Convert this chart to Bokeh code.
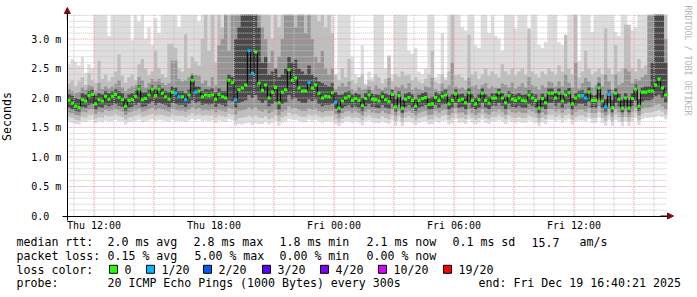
from bokeh.plotting import figure
from bokeh.models import Range1d, FixedTicker, Label, Arrow, NormalHead
from bokeh.embed import file_html
from bokeh.resources import INLINE
from bokeh.core.properties import value
import math

# ---------------- data (values in 1/100 ms, one per 10-minute slot) ----------------
START_H = 10 + 40 / 60.0      # Thu 10:40 (hours since Thu 00:00)
STEP_H = 1 / 6.0              # 10 minutes
END_H = START_H + 30          # Fri 16:40
TOP_MS = 3.415                # top of the graph area

MEDIAN = [196,191,186,184,197,195,204,206,190,197,
          195,203,198,203,206,201,197,186,196,197,
          203,215,197,199,205,215,204,215,208,202,
          198,210,208,202,202,197,205,230,210,212,
          202,205,204,205,198,206,202,200,230,226,
          197,214,217,222,280,242,278,225,213,222,
          200,210,218,192,210,214,248,230,234,217,
          212,212,226,217,222,208,200,203,202,209,
          193,183,195,200,203,196,199,196,187,199,
          205,198,197,195,202,197,194,206,185,204,
          183,198,201,196,186,196,199,201,189,190,
          201,196,203,205,190,196,207,196,198,192,
          209,196,190,197,208,196,191,200,200,209,
          200,192,204,198,196,200,196,195,205,200,
          196,183,199,192,208,208,200,208,195,205,
          209,190,200,204,204,200,210,196,196,217,
          195,185,206,184,208,198,183,200,183,199,
          215,186,210,210,212,212,222,232,217,205]

LOSS_SLOTS = [32, 33, 35, 38, 50, 54, 55, 72, 80, 154, 155, 161, 162]   # slots with 1/20 loss
LOSS = [1 if i in LOSS_SLOTS else 0 for i in range(len(MEDIAN))]

HI1 = [257,266,262,255,270,243,257,250,341,341,
       341,341,305,341,341,341,341,341,341,298,
       341,330,341,300,320,290,335,310,341,341,
       341,341,341,320,341,341,341,341,341,330,
       341,341,341,341,341,341,341,341,341,341,
       341,341,341,341,341,341,341,341,341,341,
       341,341,341,341,341,341,341,341,341,341,
       341,341,341,341,341,341,341,341,341,341,
       234,341,341,341,341,270,240,230,290,225,
       245,235,341,341,341,250,270,240,341,341,
       341,341,280,275,285,245,240,250,341,341,
       235,240,310,235,341,341,341,341,320,315,
       341,341,290,285,341,341,310,341,305,300,
       280,341,341,341,318,341,341,341,305,341,
       341,290,285,295,341,341,341,295,290,300,
       341,341,341,263,341,341,341,312,341,341,
       341,341,341,341,312,305,341,341,318,315,
       320,341,341,341,341,341,341,341,341,341]

HI2 = [225,230,220,228,235,222,242,230,226,263,
       232,240,228,236,245,274,238,226,235,240,
       230,257,266,250,238,245,280,250,240,235,
       292,292,285,250,245,308,250,270,262,255,
       300,341,280,341,260,341,320,341,341,341,
       341,341,341,341,341,341,341,341,341,341,
       341,300,341,320,341,341,341,341,341,341,
       341,341,341,341,341,330,341,320,341,310,
       240,230,250,235,266,230,225,235,240,222,
       230,228,240,235,225,232,272,228,240,236,
       245,238,240,230,235,228,225,232,240,280,
       228,225,240,230,245,341,238,240,235,230,
       307,240,245,232,240,250,238,245,240,235,
       257,245,240,250,238,245,250,240,318,245,
       240,235,245,240,250,245,240,255,245,307,
       250,240,341,235,245,280,250,240,245,250,
       240,318,250,240,290,245,250,324,324,250,
       245,266,250,255,270,280,341,341,341,341]

HI3 = [215,212,208,210,218,214,222,220,212,225,
       215,220,216,220,224,230,218,212,216,220,
       222,235,230,218,225,232,228,232,226,222,
       225,263,263,232,228,230,235,242,240,238,
       225,230,220,235,222,290,300,341,280,341,
       341,341,341,341,341,341,341,341,320,300,
       260,280,250,270,300,341,341,341,320,341,
       341,310,341,300,270,260,280,250,240,250,
       215,220,225,220,228,215,212,218,214,215,
       220,213,222,216,214,218,234,215,220,218,
       222,216,225,214,218,215,213,220,218,234,
       215,212,224,216,222,260,220,216,218,214,
       234,220,222,215,222,225,216,220,218,215,
       224,222,218,226,216,220,225,218,235,222,
       220,214,222,218,228,226,220,228,220,240,
       226,218,260,216,225,234,228,218,222,235,
       220,240,228,215,240,222,226,250,245,225,
       232,230,235,240,341,341,341,341,341,300]

HI4 = [206,204,200,198,208,206,212,214,204,208,
       206,212,208,212,215,212,208,200,206,208,
       212,222,210,210,214,222,214,222,216,212,
       210,220,218,212,212,208,214,238,220,220,
       212,215,214,216,210,216,212,212,240,236,
       300,320,341,341,341,341,341,320,260,270,
       240,245,250,235,240,250,270,260,265,250,
       245,240,255,240,235,228,225,222,220,225,
       210,205,206,210,212,206,208,206,200,208,
       213,207,206,205,211,207,205,214,198,212,
       196,207,210,206,198,205,208,210,200,202,
       210,206,212,214,202,206,215,206,207,203,
       216,206,201,206,216,206,202,208,208,216,
       208,202,212,207,206,208,205,206,213,208,
       206,196,207,202,216,216,208,216,205,213,
       217,200,208,212,213,208,218,205,205,225,
       205,198,214,196,216,207,196,208,196,208,
       223,198,218,220,220,260,341,341,341,260]

LO4 = [184,181,178,177,185,184,188,190,180,185,
       184,188,186,188,190,187,185,178,184,185,
       188,192,185,186,190,194,188,192,190,188,
       185,192,190,188,188,185,190,196,192,194,
       188,190,189,190,185,190,188,186,196,194,
       184,192,194,196,205,200,205,196,192,196,
       186,190,194,180,190,193,205,198,200,195,
       192,192,198,195,198,190,186,188,188,190,
       182,175,183,186,188,184,186,184,178,186,
       190,185,184,183,188,184,182,190,177,189,
       175,185,188,184,178,184,186,188,180,181,
       188,184,189,190,180,184,192,184,185,181,
       192,184,180,184,192,184,181,187,187,192,
       187,181,190,185,184,187,184,184,190,187,
       184,175,185,181,192,192,187,192,184,190,
       193,180,187,190,190,187,194,184,184,198,
       184,177,191,176,192,186,176,187,176,187,
       196,178,194,196,196,198,203,206,200,193]

LO3 = [176,174,171,170,177,176,180,181,173,177,
       176,180,178,179,181,179,177,171,176,177,
       179,182,177,178,181,183,179,182,181,179,
       177,182,180,179,179,177,180,184,181,183,
       179,180,179,180,176,180,178,177,183,181,
       172,178,179,180,184,180,184,179,177,180,
       174,177,180,170,177,179,186,182,183,180,
       178,178,182,180,182,178,176,178,178,179,
       173,167,174,177,178,175,177,175,170,177,
       180,176,175,174,178,175,173,180,169,179,
       167,176,178,175,170,175,177,178,171,172,
       178,175,179,180,171,175,182,175,176,172,
       181,175,171,175,181,175,172,177,177,181,
       177,172,180,176,175,177,175,175,180,177,
       175,167,176,172,181,181,177,181,175,180,
       182,171,177,180,180,177,183,175,175,186,
       175,169,181,168,181,176,168,177,168,177,
       184,170,182,184,184,185,188,190,186,181]

LO2 = [168,166,163,162,168,167,171,172,165,168,
       167,171,169,170,172,170,168,163,167,168,
       170,172,168,169,171,173,170,172,171,170,
       168,172,170,170,170,168,171,174,171,173,
       170,171,170,171,167,171,169,168,173,171,
       162,166,167,168,170,167,170,167,166,169,
       164,167,170,161,167,169,175,172,173,170,
       168,168,172,170,172,169,167,169,169,170,
       164,159,165,168,169,166,168,166,162,168,
       171,167,166,165,169,166,164,171,161,170,
       159,167,169,166,162,166,168,169,163,164,
       169,166,170,171,163,166,173,166,167,164,
       172,166,163,166,172,166,164,168,168,172,
       168,164,171,167,166,168,166,166,171,168,
       166,159,167,164,172,172,168,172,166,171,
       173,163,168,171,171,168,174,166,166,176,
       166,161,172,160,172,167,160,168,160,168,
       175,162,173,175,175,176,178,180,177,172]

LO1 = [160,158,156,155,160,159,162,163,157,160,
       159,162,160,161,163,161,160,155,159,160,
       161,163,159,160,162,164,161,163,162,161,
       159,163,161,161,161,159,162,165,162,164,
       161,162,161,162,158,162,160,159,164,162,
       153,156,155,157,158,154,157,156,156,159,
       155,158,161,153,158,160,165,163,163,161,
       159,159,163,161,163,160,158,160,160,161,
       156,152,157,160,160,158,160,158,154,160,
       162,159,158,157,160,158,156,162,153,161,
       152,159,160,158,154,158,160,160,155,156,
       160,158,161,162,155,158,164,158,159,156,
       163,158,155,158,163,158,156,160,160,163,
       160,156,162,159,158,160,158,158,162,160,
       158,152,159,156,163,163,160,163,158,162,
       164,155,160,162,162,160,165,158,158,167,
       158,153,163,152,163,159,152,160,152,160,
       166,154,164,166,166,167,168,170,168,164]

X_TICKS = [12, 18, 24, 30, 36]
X_TICK_LABELS = ["Thu 12:00", "Thu 18:00", "Fri 00:00", "Fri 06:00", "Fri 12:00"]
Y_TICKS = [0.0, 0.5, 1.0, 1.5, 2.0, 2.5, 3.0]
Y_TICK_LABELS = ["0.0\u00a0\u00a0", "0.5 m", "1.0 m", "1.5 m", "2.0 m", "2.5 m", "3.0 m"]

LOSS_LEVELS = [0, 1, 2, 3, 4, 10, 19]
LOSS_LABELS = ["0", "1/20", "2/20", "3/20", "4/20", "10/20", "19/20"]
LOSS_COLORS = ["#26ff00", "#00b8ff", "#0059ff", "#5e00ff", "#7e00ff", "#dd00ff", "#ff0000"]

ROW1 = ["median rtt:", "2.0 ms avg", "2.8 ms max", "1.8 ms min", "2.1 ms now", "0.1 ms sd", "15.7", "am/s"]
ROW2 = ["packet loss:", "0.15 % avg", "5.00 % max", "0.00 % min", "0.00 % now"]
ROW3 = ["loss color:"]
ROW4 = ["probe:", "20 ICMP Echo Pings (1000 Bytes) every 300s", "end: Fri Dec 19 16:40:21 2025"]

for arr in (MEDIAN, HI1, HI2, HI3, HI4, LO1, LO2, LO3, LO4):
    assert len(arr) == 180, len(arr)

# ---------------- canvas layout helpers (frame = whole canvas) ----------------
W, H = 697, 297
PX_PER_H, PX_PER_MS = 20.0, 59.0
PX_12H, PY_0MS = 93.5, 215.5           # canvas pixel of Thu 12:00 and of 0 ms
px2h = lambda px: 12 + (px - PX_12H) / PX_PER_H
py2ms = lambda py: (PY_0MS - py) / PX_PER_MS

# ---------------- derived plotting columns ----------------
n = len(MEDIAN)
ms = lambda a: [min(v / 100.0, TOP_MS) for v in a]
t_left = [START_H + i * STEP_H for i in range(n)]
t_right = [t + STEP_H for t in t_left]
t_mid = [t + STEP_H / 2 for t in t_left]
t_step = t_left + [END_H]
ext = lambda a: ms(a) + [min(a[-1] / 100.0, TOP_MS)]

def loss_color(k):
    c = LOSS_COLORS[0]
    for lev, col in zip(LOSS_LEVELS, LOSS_COLORS):
        if k >= lev:
            c = col
    return c

med = ms(MEDIAN)
med_colors = [loss_color(k) for k in LOSS]

FONT = "DejaVu Sans Mono"

p = figure(width=W, height=H, title=None,
           x_range=Range1d(px2h(0), px2h(W)), y_range=Range1d(py2ms(H), py2ms(0)),
           output_backend="svg", toolbar_location=None, min_border=0)
p.outline_line_color = None
p.background_fill_color = "white"
p.border_fill_color = "white"
p.xgrid.visible = False
p.ygrid.visible = False

# smoke
shades = [(LO1, HI1, "#dddddd"), (LO2, HI2, "#bebebe"), (LO3, HI3, "#959595"), (LO4, HI4, "#4a4a4a")]
for lo, hi, col in shades:
    p.varea_step(x=t_step, y1=ext(lo), y2=ext(hi), step_mode="after", fill_color=col)

# grid on top of the smoke (rrdtool style dotted)
minor_y = [k / 10 for k in range(1, 35) if k % 5 != 0]
major_y = Y_TICKS[1:]
major_x = [h for h in range(11, 41) if h % 3 == 0]
minor_x = [h for h in range(11, 41) if h % 3 != 0]
p.segment(x0=[START_H] * len(minor_y), x1=[END_H] * len(minor_y), y0=minor_y, y1=minor_y,
          line_color="#c4c4c4", line_dash="1 1", line_width=1)
p.segment(x0=minor_x, x1=minor_x, y0=[0] * len(minor_x), y1=[TOP_MS] * len(minor_x),
          line_color="#c4c4c4", line_dash="1 1", line_width=1)
p.segment(x0=[START_H] * len(major_y), x1=[END_H] * len(major_y), y0=major_y, y1=major_y,
          line_color="#e89a9a", line_dash="1 1", line_width=1)
p.segment(x0=major_x, x1=major_x, y0=[0] * len(major_x), y1=[TOP_MS] * len(major_x),
          line_color="#e89a9a", line_dash="1 1", line_width=1)

# median line + loss-coloured median marks
p.step(x=t_mid, y=med, mode="center", line_color="black", line_width=1)
p.quad(left=t_left, right=t_right, bottom=[m - 0.026 for m in med], top=[m + 0.026 for m in med],
       fill_color=med_colors, line_color=None)

# axes (fixed at the graph origin, drawn inside the full-canvas frame)
p.xaxis.fixed_location = 0
p.yaxis.fixed_location = START_H
p.xaxis.bounds = (px2h(62), px2h(668))
p.yaxis.bounds = (py2ms(220), py2ms(12))
p.xaxis.ticker = FixedTicker(ticks=X_TICKS)
p.xaxis.major_label_overrides = dict(zip(X_TICKS, X_TICK_LABELS))
p.yaxis.ticker = FixedTicker(ticks=Y_TICKS)
p.yaxis.major_label_overrides = dict(zip(Y_TICKS, Y_TICK_LABELS))
for ax in (p.xaxis[0], p.yaxis[0]):
    ax.major_tick_out = 0
    ax.major_tick_in = 0
    ax.minor_tick_out = 0
    ax.minor_tick_in = 0
    ax.axis_line_color = "black"
    ax.major_label_text_font = FONT
    ax.major_label_text_font_size = "10px"
    ax.major_label_text_color = "black"
p.xaxis.major_label_standoff = 4
p.yaxis.major_label_standoff = 6
p.yaxis.axis_label = "Seconds"
p.yaxis.axis_label_text_font = FONT
p.yaxis.axis_label_text_font_size = "11.6px"
p.yaxis.axis_label_text_font_style = "normal"
p.yaxis.axis_label_text_color = "black"
p.yaxis.axis_label_standoff = 14

# axis arrow heads
head = lambda: NormalHead(size=6, fill_color="#7f0a0a", line_color="#7f0a0a")
p.add_layout(Arrow(end=head(), x_start=px2h(660), y_start=0, x_end=px2h(673), y_end=0,
                   line_color="black", line_width=1))
p.add_layout(Arrow(end=head(), x_start=START_H, y_start=py2ms(20), x_end=START_H, y_end=py2ms(7),
                   line_color="black", line_width=1))

# watermark
p.add_layout(Label(x=px2h(687), y=py2ms(5), text="RRDTOOL / TOBI OETIKER",
                   angle=-math.pi / 2, text_font=FONT, text_font_size="8.3px",
                   text_color="#b4b4b4", text_align="left", text_baseline="middle"))

# ---------------- legend block (below the graph) ----------------
rows_py = [241.7, 255.0, 269.3, 282.7]
row_px = [[16, 107, 193, 279, 366, 452, 531, 579],
          [16, 107, 194, 279, 366],
          [16],
          [16, 107, 478]]
rows = [ROW1, ROW2, ROW3, ROW4]
xs, ys, ts = [], [], []
for r, texts in enumerate(rows):
    for x, t in zip(row_px[r], texts):
        xs.append(px2h(x)); ys.append(py2ms(rows_py[r])); ts.append(t)
box_px = [109, 146, 203, 262, 320, 378, 443]
for bx, lab in zip(box_px, LOSS_LABELS):
    xs.append(px2h(bx + 15)); ys.append(py2ms(rows_py[2])); ts.append(lab)
p.text(x=xs, y=ys, text=ts, text_font=value(FONT), text_font_size="11.6px",
       text_color="black", text_align="left", text_baseline="middle")
p.quad(left=[px2h(b) for b in box_px], right=[px2h(b + 8) for b in box_px],
       top=[py2ms(rows_py[2] - 4.5)] * len(box_px), bottom=[py2ms(rows_py[2] + 3.5)] * len(box_px),
       fill_color=LOSS_COLORS, line_color="black", line_width=1)

open("out.html", "w").write(file_html(p, INLINE))
